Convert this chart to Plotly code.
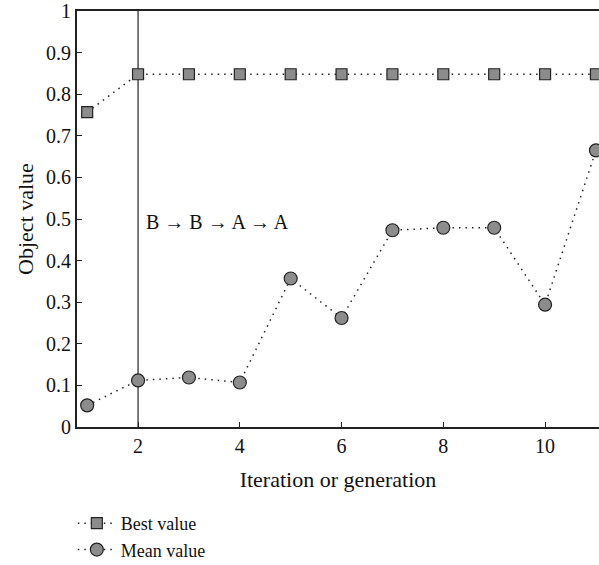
import plotly.graph_objects as go

iterations = [1, 2, 3, 4, 5, 6, 7, 8, 9, 10, 11]
best_value = [0.757, 0.848, 0.848, 0.848, 0.848, 0.848, 0.848, 0.848, 0.848, 0.848, 0.848]
mean_value = [0.052, 0.112, 0.119, 0.107, 0.357, 0.262, 0.473, 0.479, 0.479, 0.294, 0.665]
x_ticks = [2, 4, 6, 8, 10]
y_ticks = [0, 0.1, 0.2, 0.3, 0.4, 0.5, 0.6, 0.7, 0.8, 0.9, 1]
y_tick_text = ["0", "0.1", "0.2", "0.3", "0.4", "0.5", "0.6", "0.7", "0.8", "0.9", "1"]
switch_x = 2
annotation_text = "B \u2192 B \u2192 A \u2192 A"

FONT = "Liberation Serif, DejaVu Serif, serif"
FS = 20
DOT = "1.5px,5px"
fig = go.Figure()
fig.add_trace(go.Scatter(
    x=iterations, y=best_value, mode="lines+markers", name="Best value",
    line=dict(color="#222", width=1.5, dash=DOT),
    marker=dict(symbol="square", size=11, color="#8c8c8c", line=dict(color="#222", width=1.2)),
    cliponaxis=False,
))
fig.add_trace(go.Scatter(
    x=iterations, y=mean_value, mode="lines+markers", name="Mean value",
    line=dict(color="#222", width=1.5, dash=DOT),
    marker=dict(symbol="circle", size=13, color="#8c8c8c", line=dict(color="#222", width=1.2)),
    cliponaxis=False,
))
fig.add_shape(type="line", x0=switch_x, x1=switch_x, y0=0, y1=1, xref="x", yref="y",
              line=dict(color="#222", width=1.2), layer="below")
fig.add_annotation(x=2.12, y=0.493, xref="x", yref="y", text=annotation_text, showarrow=False,
                   xanchor="left", yanchor="middle", font=dict(family=FONT, size=FS, color="#111"))

fig.update_layout(
    width=599, height=565, margin=dict(l=77, r=0, t=11, b=138, autoexpand=False),
    paper_bgcolor="white", plot_bgcolor="white",
    font=dict(family=FONT, size=FS, color="#111"),
    showlegend=True,
    legend=dict(x=-0.008, y=1 - 505 / 565, xref="paper", yref="container", xanchor="left", yanchor="top",
                orientation="v",
                font=dict(family=FONT, size=18, color="#111"), bgcolor="rgba(0,0,0,0)",
                itemwidth=38, tracegroupgap=0),
    xaxis=dict(range=[0.8, 11.06], tickvals=x_ticks, ticks="inside", ticklen=5, tickcolor="#222",
               tickfont=dict(family=FONT, size=FS, color="#111"), ticklabeloverflow="allow",
               showline=True, linecolor="#222", linewidth=2, mirror=True, showgrid=False, zeroline=False,
               title=dict(text="Iteration or generation", font=dict(family=FONT, size=22, color="#111"), standoff=16)),
    yaxis=dict(range=[0, 1], tickvals=y_ticks, ticktext=y_tick_text, ticks="inside", ticklen=5, tickcolor="#222",
               tickfont=dict(family=FONT, size=FS, color="#111"), ticklabeloverflow="allow",
               showline=True, linecolor="#222", linewidth=2, mirror=True, showgrid=False, zeroline=False,
               title=dict(text="Object value", font=dict(family=FONT, size=22, color="#111"), standoff=6)),
)
fig.write_html("out.html")
